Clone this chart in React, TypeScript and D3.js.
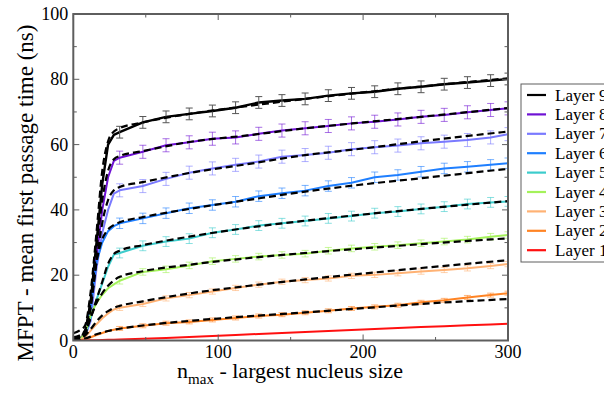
import * as d3 from 'd3';

// x positions of the simulated points and of the fitted curves
const dataX = [0, 4, 8, 12, 16, 20, 24, 28, 32, 48, 64, 80, 96, 112, 128, 144, 160, 176, 192, 208, 224, 240, 256, 272, 288, 300];
const fitX = [0, 4, 8, 12, 16, 20, 24, 28, 32, 48, 80, 120, 160, 200, 240, 300];

// MFPT values (ns), one array per layer
const layer9 = [0, 0.3, 2, 12, 30, 48, 60, 63, 63.8, 66.8, 68.5, 69.4, 70.3, 71.3, 72.9, 73.5, 74.0, 75.0, 75.7, 76.2, 77.1, 77.7, 78.5, 79.0, 79.6, 80.1];
const layer8 = [0, 0.2, 1.5, 8, 25, 40, 50, 55, 56, 57.8, 59.8, 60.7, 61.8, 62.2, 63.3, 64.3, 65.0, 65.7, 66.5, 67.0, 67.7, 68.5, 69.1, 69.9, 70.6, 71.1];
const layer7 = [0, 0, 1, 6, 22, 33, 40, 45, 46, 47.3, 49.5, 51.4, 52.7, 53.8, 54.8, 56.3, 56.8, 57.5, 58.6, 59.2, 59.7, 60.4, 60.9, 61.4, 62.2, 63.2];
const layer6 = [0, 0, 1, 10, 24, 30, 33.5, 35, 35.9, 37.4, 39.0, 40.5, 41.5, 42.5, 44.2, 45.1, 45.9, 47.3, 48.3, 50.0, 50.7, 51.7, 52.7, 53.2, 53.8, 54.3];
const layer5 = [0, 0, 1.5, 7, 12.5, 17.5, 22.6, 26.3, 26.8, 29.0, 30.3, 31.2, 33.0, 34.0, 35.2, 35.9, 36.6, 37.4, 38.1, 39.0, 39.5, 40.3, 41.0, 41.8, 42.3, 42.6];
const layer4 = [0, 0, 2, 8, 11.5, 14, 16, 17.2, 18.3, 21.0, 21.8, 23.0, 24.3, 25.0, 25.7, 26.2, 26.6, 27.5, 28.2, 28.7, 29.2, 29.8, 30.3, 30.9, 31.8, 32.3];
const layer3 = [0, 0, 1, 3, 5, 6.8, 8.3, 9.5, 10.0, 11.2, 12.9, 13.9, 15.0, 16.1, 17.1, 18.0, 18.5, 19.0, 19.8, 20.1, 20.6, 21.1, 21.6, 22.1, 22.8, 23.4];
const layer2 = [0, 0, 0.3, 1, 1.7, 2.3, 2.9, 3.3, 3.7, 4.5, 5.3, 5.7, 6.3, 6.9, 7.5, 7.9, 8.5, 9.1, 9.8, 10.3, 10.8, 11.7, 12.3, 13.2, 13.9, 14.5];
const layer1 = [0, 0, 0, 0.05, 0.1, 0.15, 0.2, 0.25, 0.3, 0.55, 0.8, 1.1, 1.4, 1.7, 2.0, 2.3, 2.6, 2.9, 3.2, 3.5, 3.8, 4.1, 4.4, 4.65, 4.9, 5.1];

// fitted curves (dashed)
const fit9 = [2.2, 3, 4.5, 15, 33, 52, 61, 64, 65, 66.8, 69.4, 71.8, 74, 76, 77.8, 80.3];
const fit8 = [1, 1.5, 3, 12, 28, 43, 52, 55.5, 56.5, 58, 60.8, 62.8, 65, 66.8, 68.5, 71.2];
const fit7 = [0.5, 1, 2, 10, 24, 36, 43, 46, 47, 48.5, 51.3, 54, 56.8, 58.8, 61, 64];
const fit6 = [0.5, 1, 2, 11, 24, 31, 34, 35.4, 36.2, 37.8, 40.3, 43, 45.6, 47.8, 49.7, 52.6];
const fit5 = [0, 0.5, 2, 7, 12.5, 18, 23.5, 26.5, 27.5, 29.2, 31.8, 34.5, 36.7, 38.6, 40.3, 42.7];
const fit4 = [0, 0.5, 3, 7, 11.5, 14.5, 16.8, 18.4, 19.5, 21.2, 23.2, 25.2, 26.8, 28.2, 29.5, 31.3];
const fit3 = [0, 0.3, 1.5, 3.5, 5.8, 7.7, 9, 10, 10.6, 12, 14.4, 16.7, 18.7, 20.5, 22.2, 24.6];
const fit2 = [0, 0.2, 0.6, 1.2, 1.9, 2.4, 2.9, 3.3, 3.6, 4.6, 6.0, 7.4, 8.6, 9.9, 11.2, 12.7];

// half height of the error bars, per layer (Layer 1 .. Layer 9)
const layerErr = [0.1, 0.6, 0.8, 1.0, 1.5, 1.6, 2.0, 2.0, 1.8];

const layerNames = ['Layer 9', 'Layer 8', 'Layer 7', 'Layer 6', 'Layer 5', 'Layer 4', 'Layer 3', 'Layer 2', 'Layer 1'];
const layerColors = ['#000000', '#6f12d4', '#7a7aff', '#1f7fff', '#3ccccc', '#a4f25a', '#ffb274', '#ff8424', '#ff1010'];
const layerData = [layer9, layer8, layer7, layer6, layer5, layer4, layer3, layer2, layer1];
const layerFits = [fit9, fit8, fit7, fit6, fit5, fit4, fit3, fit2, null];

const xTicks = [0, 100, 200, 300];
const xMinor = [50, 150, 250];
const yTicks = [0, 20, 40, 60, 80, 100];
const yMinor = [10, 30, 50, 70, 90];

const W = 604;
const H = 393;
const margin = { left: 73.3, right: 96, top: 14, bottom: 52.5 };
const FONT = '"Liberation Serif", "Times New Roman", serif';

export default function App() {
    const x = d3.scaleLinear().domain([0, 300]).range([margin.left, W - margin.right]);
    const y = d3.scaleLinear().domain([0, 100]).range([H - margin.bottom, margin.top]);
    const [x0, x1] = x.range();
    const [y0, y1] = y.range();

    const dataLine = d3.line<number>()
        .x((_, i) => x(dataX[i]))
        .y(d => y(d));
    const fitLine = d3.line<number>()
        .x((_, i) => x(fitX[i]))
        .y(d => y(d))
        .curve(d3.curveMonotoneX);

    const axisColor = '#5e5e5e';
    const legendTop = 95;
    const legendStep = 19.4;

    return (
        <svg width={W} height={H} style={{ position: 'fixed', left: 0, top: 0, background: '#fff' }} fontFamily={FONT}>
            <defs>
                <clipPath id="plot">
                    <rect x={x0} y={y1} width={x1 - x0} height={y0 - y1} />
                </clipPath>
            </defs>

            {/* data, error bars and fits */}
            <g clipPath="url(#plot)">
                {layerData.map((vals, li) => {
                    const color = layerColors[li];
                    const err = layerErr[8 - li];
                    return (
                        <g key={li}>
                            <path d={dataLine(vals) || ''} fill="none" stroke={color} strokeWidth={li === 0 ? 2.4 : 2} strokeLinejoin="round" />
                            {li < 8 && dataX.map((xv, i) => xv < 32 ? null : (
                                <g key={i} stroke={li === 0 ? '#555' : color} strokeOpacity={li === 0 ? 1 : 0.6} strokeWidth={1}>
                                    <line x1={x(xv)} x2={x(xv)} y1={y(vals[i] - err)} y2={y(vals[i] + err)} />
                                    <line x1={x(xv) - 3.5} x2={x(xv) + 3.5} y1={y(vals[i] - err)} y2={y(vals[i] - err)} />
                                    <line x1={x(xv) - 3.5} x2={x(xv) + 3.5} y1={y(vals[i] + err)} y2={y(vals[i] + err)} />
                                </g>
                            ))}
                        </g>
                    );
                })}
                {layerFits.map((vals, li) => vals && (
                    <path key={li} d={fitLine(vals) || ''} fill="none" stroke="#000" strokeWidth={2.2} strokeDasharray="7,4" />
                ))}
            </g>

            {/* frame */}
            <rect x={x0} y={y1} width={x1 - x0} height={y0 - y1} fill="none" stroke={axisColor} strokeWidth={2} />

            {/* x ticks, bottom and top */}
            {xTicks.concat(xMinor).map(t => {
                const len = xTicks.includes(t) ? 6 : 3.5;
                return (
                    <g key={'x' + t} stroke={axisColor} strokeWidth={1}>
                        <line x1={x(t)} x2={x(t)} y1={y0} y2={y0 - len} />
                        <line x1={x(t)} x2={x(t)} y1={y1} y2={y1 + len} />
                    </g>
                );
            })}
            {xTicks.map(t => (
                <text key={'xl' + t} x={x(t)} y={y0 + 17} fontSize={18} textAnchor="middle">{t}</text>
            ))}

            {/* y ticks, left and right */}
            {yTicks.concat(yMinor).map(t => {
                const len = yTicks.includes(t) ? 6 : 3.5;
                return (
                    <g key={'y' + t} stroke={axisColor} strokeWidth={1}>
                        <line x1={x0} x2={x0 + len} y1={y(t)} y2={y(t)} />
                        <line x1={x1} x2={x1 - len} y1={y(t)} y2={y(t)} />
                    </g>
                );
            })}
            {yTicks.map(t => (
                <text key={'yl' + t} x={x0 - 5} y={y(t) + 6} fontSize={18} textAnchor="end">{t}</text>
            ))}

            {/* axis titles */}
            <text x={290} y={378} fontSize={22} textAnchor="middle">
                n<tspan fontSize={15} dy={6}>max</tspan><tspan dy={-6}> - largest nucleus size</tspan>
            </text>
            <text transform={`translate(33, 193) rotate(-90)`} fontSize={23} textAnchor="middle">
                MFPT - mean first passage time (ns)
            </text>

            {/* legend */}
            <rect x={521} y={84} width={100} height={178} fill="#fff" stroke={axisColor} strokeWidth={1} />
            {layerNames.map((name, i) => (
                <g key={name}>
                    <line x1={527} x2={546} y1={legendTop + i * legendStep} y2={legendTop + i * legendStep} stroke={layerColors[i]} strokeWidth={2.2} />
                    <text x={555} y={legendTop + i * legendStep + 5.5} fontSize={17}>{name}</text>
                </g>
            ))}
        </svg>
    );
}
